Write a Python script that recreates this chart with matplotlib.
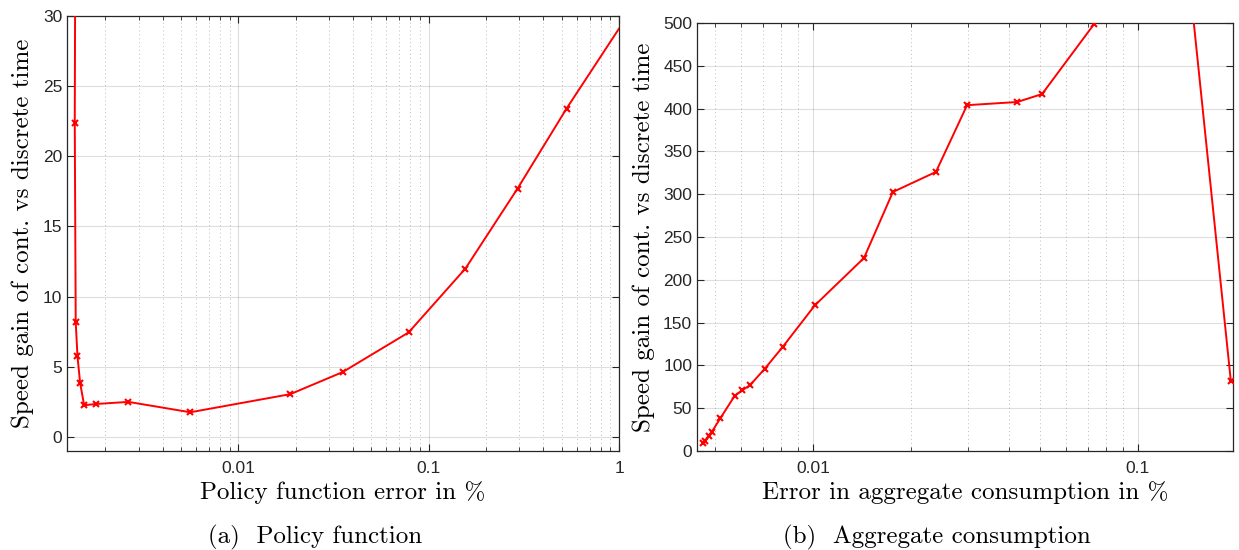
import numpy as np
import matplotlib
matplotlib.use("Agg")
import matplotlib.pyplot as plt

# policy function error (%) vs speed gain
policy_err = [0.00141, 0.001384, 0.0014, 0.00143, 0.001477, 0.00155, 0.00179,
              0.00265, 0.0056, 0.01875, 0.0353, 0.0785, 0.156, 0.293, 0.53, 1.0]
policy_gain = [60.0, 22.4, 8.2, 5.76, 3.85, 2.26, 2.35,
               2.5, 1.76, 3.05, 4.62, 7.45, 12.0, 17.7, 23.4, 29.1]
policy_marked = [False] + [True] * 14 + [False]

# aggregate consumption error (%) vs speed gain
agg_err = [0.0046, 0.00466, 0.00479, 0.00488, 0.00519, 0.00575, 0.00606, 0.0064,
           0.0071, 0.00807, 0.01014, 0.01436, 0.01762, 0.0239, 0.0298, 0.0425,
           0.0507, 0.0733, 0.117, 0.193]
agg_gain = [9.7, 12.0, 17.9, 22.0, 38.2, 64.6, 70.9, 76.8, 95.8, 121.5, 170.2,
            225.5, 302.6, 326.0, 404.0, 407.7, 417.0, 498.8, 880.0, 81.8]
agg_marked = [True] * 18 + [False, True]

policy_yticks = [0, 5, 10, 15, 20, 25, 30]
agg_yticks = list(range(0, 501, 50))

serif = "cmr10"
tick_font = "Liberation Sans"
label_size = 18
plt.rcParams["axes.formatter.use_mathtext"] = True

fig = plt.figure(figsize=(12.39, 5.5), dpi=100)
W, H = 1239, 550
ax1 = fig.add_axes([67 / W, 1 - 451 / H, (619 - 67) / W, (451 - 16) / H])
ax2 = fig.add_axes([697 / W, 1 - 451 / H, (1233 - 697) / W, (451 - 23) / H])


def style(ax):
    ax.set_xscale("log")
    ax.grid(True, which="major", color="#262626", alpha=0.15, lw=0.8, ls="-")
    ax.grid(True, which="minor", axis="x", color="#262626", alpha=0.3, lw=0.7, ls=(0, (1, 3)))
    ax.tick_params(which="both", direction="in", top=True, right=True,
                   colors="#262626", labelsize=12.5)
    ax.tick_params(which="major", length=5, width=0.8)
    ax.tick_params(which="minor", length=3, width=0.6)
    ax.tick_params(axis="x", pad=7)
    for s in ax.spines.values():
        s.set_color("#262626")
        s.set_linewidth(0.9)
    ax.set_axisbelow(True)


def set_ticks(ax, xt, xl, yt):
    ax.set_xticks(xt, labels=xl)
    ax.set_yticks(yt, labels=[str(v) for v in yt])
    for lab in ax.get_xticklabels() + ax.get_yticklabels():
        lab.set_fontfamily(tick_font)


def draw(ax, x, y, marked):
    x = np.array(x)
    y = np.array(y)
    m = np.array(marked)
    ax.plot(x, y, color="red", lw=1.4, zorder=3)
    ax.plot(x[m], y[m], ls="none", marker="x", color="red", ms=4.5, mew=1.5, zorder=4)


style(ax1)
draw(ax1, policy_err, policy_gain, policy_marked)
ax1.set_xlim(0.00126, 1.0)
ax1.set_ylim(-1, 30)
set_ticks(ax1, [0.01, 0.1, 1], ["0.01", "0.1", "1"], policy_yticks)
ax1.set_xlabel("Policy function error in %", fontfamily=serif, fontsize=label_size, labelpad=4)
ax1.set_ylabel("Speed gain of cont. vs discrete time", fontfamily=serif, fontsize=label_size, labelpad=6)

style(ax2)
draw(ax2, agg_err, agg_gain, agg_marked)
ax2.set_xlim(0.0044, 0.196)
ax2.set_ylim(0, 500)
set_ticks(ax2, [0.01, 0.1], ["0.01", "0.1"], agg_yticks)
ax2.set_xlabel("Error in aggregate consumption in %", fontfamily=serif, fontsize=label_size, labelpad=4)
ax2.set_ylabel("Speed gain of cont. vs discrete time", fontfamily=serif, fontsize=label_size, labelpad=6)

fig.text(315 / W, 1 - 537 / H, "(a)  Policy function", fontfamily=serif, fontsize=label_size,
         ha="center", va="center")
fig.text(937 / W, 1 - 537 / H, "(b)  Aggregate consumption", fontfamily=serif, fontsize=label_size,
         ha="center", va="center")

fig.savefig("out.png", dpi=100)
